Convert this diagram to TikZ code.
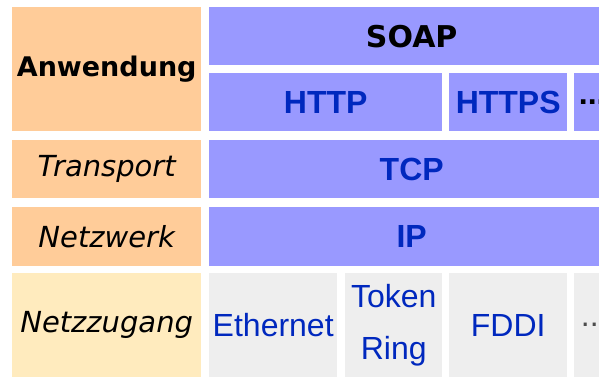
\documentclass[tikz,border=0pt]{standalone}
\usepackage{fontspec}
\setmainfont{DejaVu Sans}
\newfontfamily\protofont{Liberation Sans}
\usetikzlibrary{positioning}
\definecolor{peach}{RGB}{255,204,153}
\definecolor{lilac}{RGB}{153,153,255}
\definecolor{cream}{RGB}{255,235,190}
\definecolor{pale}{RGB}{238,238,238}
\definecolor{protoblue}{RGB}{0,40,190}

\begin{document}
\begin{tikzpicture}[x=1pt, y=-1pt,
      cell/.style={inner sep=0pt, anchor=north west, align=center},
      layer/.style={cell, fill=peach, font=\fontsize{29}{34}\selectfont\itshape},
      proto/.style={cell, fill=lilac, text=protoblue, font=\protofont\fontsize{32}{52}\selectfont\bfseries},
      medium/.style={cell, fill=pale, text=protoblue, font=\protofont\fontsize{32}{52}\selectfont}]
    \clip (0,0) rectangle (599,377);
    \fill[white] (0,0) rectangle (599,377);
    % layer names on the left
    \node[layer, font=\fontsize{27}{34}\selectfont\bfseries, minimum width=189, minimum height=124] (app) at (12,7) {Anwendung};
    \node[layer, minimum width=189, minimum height=58] (trans) at (12,140) {Transport};
    \node[layer, minimum width=189, minimum height=59] (net) at (12,207) {Netzwerk};
    \node[layer, fill=cream, minimum width=189, minimum height=104] (acc) at (12,273) {Netzzugang};
    % protocols per layer
    \node[proto, text=black, font=\fontsize{30}{34}\selectfont\bfseries, minimum width=405, minimum height=58] (soap) at (209,7) {SOAP};
    \node[proto, minimum width=233, minimum height=58] (http) at (209,73) {HTTP};
    \node[proto, minimum width=118, minimum height=58] (https) at (449,73) {HTTPS};
    \node[proto, text=black, minimum width=40, minimum height=58] (more) at (574,73) {\hspace*{-4pt}...};
    \node[proto, minimum width=405, minimum height=58] (tcp) at (209,140) {TCP};
    \node[proto, minimum width=405, minimum height=59] (ip) at (209,207) {IP};
    \node[medium, minimum width=128, minimum height=104] (eth) at (209,273) {Ethernet};
    \node[medium, minimum width=97, minimum height=104] (ring) at (345,273) {Token\\Ring};
    \node[medium, minimum width=118, minimum height=104] (fddi) at (449,273) {FDDI};
    \node[medium, text=black!70, minimum width=40, minimum height=104] (other) at (574,273) {...};
  \end{tikzpicture}
\end{document}
